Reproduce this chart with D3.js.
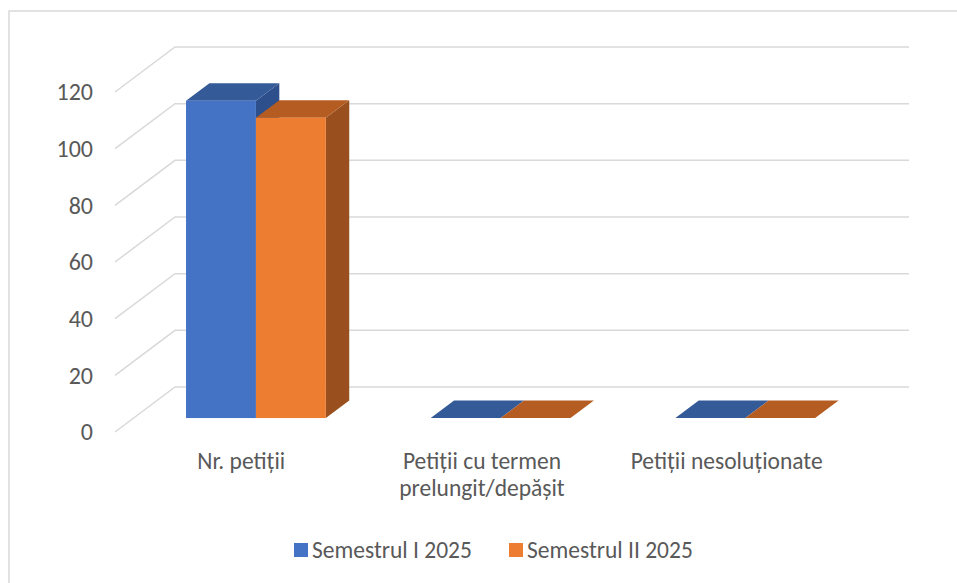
<!DOCTYPE html>
<html>
<head>
<meta charset="utf-8">
<script src="https://cdn.jsdelivr.net/npm/d3@7"></script>
<style>
  body { margin: 0; background: #fff; }
  text { font-family: Carlito, Lato, "Noto Sans", sans-serif; fill: #595959; }
</style>
</head>
<body>
<svg width="957" height="583"></svg>
<script>
var svg = d3.select('svg');

// data
var categories = ['Nr. petiții', 'Petiții cu termen\nprelungit/depășit', 'Petiții nesoluționate'];
var seriesNames = ['Semestrul I 2025', 'Semestrul II 2025'];
var sem1 = [112, 0, 0];
var sem2 = [106, 0, 0];
var yTicks = [0, 20, 40, 60, 80, 100, 120];

var seriesValues = [sem1, sem2];
var colors = [
    {front: '#4472c4', top: '#345a98', side: '#2d4f8c'},
    {front: '#ed7d31', top: '#b45c22', side: '#9a501e'}
];

// oblique 3d projection: depth goes right and up
var depthX = 60, depthY = -45;
var barFront = 0.31, barBack = 0.70;  // depth fractions of the bars

var x = d3.scaleBand().domain(categories).range([115, 849]).paddingInner(0).paddingOuter(0);
var y = d3.scaleLinear().domain([0, 120]).range([432, 92]);

// outer border (only top and left visible in frame)
svg.append('rect')
    .attr('x', 9).attr('y', 11)
    .attr('width', 1000).attr('height', 1000)
    .attr('fill', 'none')
    .attr('stroke', '#d9d9d9')
    .attr('stroke-width', 1.5);

// gridlines: left wall diagonals + back wall horizontals
var grid = svg.append('g').attr('class', 'grid')
    .attr('stroke', '#d9d9d9').attr('stroke-width', 1.5).attr('fill', 'none');

grid.selectAll('.gl')
    .data(yTicks)
    .enter()
    .append('path')
    .attr('d', function(d){
        var x0 = x.range()[0], x1 = x.range()[1];
        return 'M' + [x0, y(d)] + 'L' + [x0 + depthX, y(d) + depthY] + 'L' + [x1 + depthX, y(d) + depthY];
    });

// y axis labels
svg.append('g').selectAll('text')
    .data(yTicks)
    .enter()
    .append('text')
    .attr('x', 93)
    .attr('y', function(d){ return y(d); })
    .attr('dy', '0.35em')
    .attr('text-anchor', 'end')
    .style('font-size', '24px')
    .text(function(d){ return d; });

// bars
var bw = x.bandwidth() / (seriesNames.length + 1.5);

function pt(px, py, f) {
    return [px + depthX * f, py + depthY * f];
}

var barsG = svg.append('g');
categories.forEach(function(c, ci){
    seriesNames.forEach(function(s, si){
        var v = seriesValues[si][ci];
        var xl = x(c) + 0.75 * bw + si * bw;
        var xr = xl + bw;
        var yt = y(v), yb = y(0);
        var col = colors[si];
        var g = barsG.append('g');
        if (v > 0) {
            // side face
            g.append('polygon')
                .attr('points', [pt(xr, yt, barFront), pt(xr, yt, barBack), pt(xr, yb, barBack), pt(xr, yb, barFront)].join(' '))
                .attr('fill', col.side);
        }
        // top face
        g.append('polygon')
            .attr('points', [pt(xl, yt, barFront), pt(xl, yt, barBack), pt(xr, yt, barBack), pt(xr, yt, barFront)].join(' '))
            .attr('fill', col.top);
        if (v > 0) {
            var p0 = pt(xl, yt, barFront);
            g.append('rect')
                .attr('x', p0[0]).attr('y', p0[1])
                .attr('width', bw)
                .attr('height', yb - yt)
                .attr('fill', col.front);
        }
    });
});

// category labels
var catG = svg.append('g');
categories.forEach(function(c, ci){
    var lines = c.split('\n');
    var cx = x(c) + x.bandwidth() / 2 + (ci === 0 ? 4 : 0);
    var t = catG.append('text')
        .attr('x', cx)
        .attr('y', 469)
        .attr('text-anchor', 'middle')
        .style('font-size', '23.5px');
    lines.forEach(function(l, i){
        t.append('tspan')
            .attr('x', cx)
            .attr('dy', i === 0 ? 0 : 27)
            .text(l);
    });
});

// legend
var legendX = [294, 509];
var legend = svg.append('g');
seriesNames.forEach(function(s, i){
    legend.append('rect')
        .attr('x', legendX[i]).attr('y', 543)
        .attr('width', 14).attr('height', 14)
        .attr('fill', colors[i].front);
    legend.append('text')
        .attr('x', legendX[i] + 18)
        .attr('y', 550)
        .attr('dy', '0.35em')
        .style('font-size', '23.5px')
        .text(s);
});
</script>
</body>
</html>
